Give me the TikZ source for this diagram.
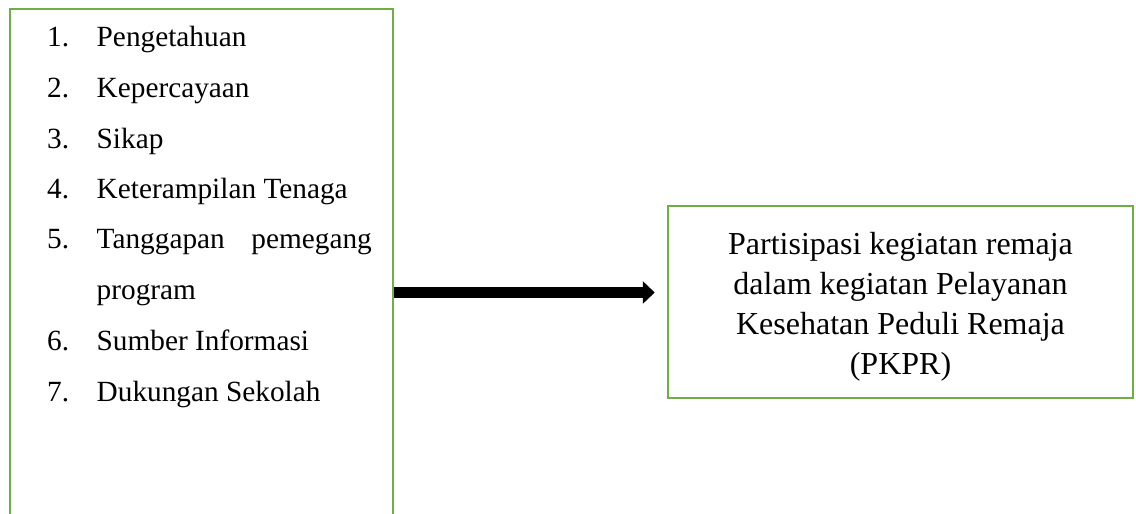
\documentclass[tikz,border=0pt]{standalone}
\usepackage{fontspec}
\setmainfont{Liberation Serif}
\usetikzlibrary{arrows.meta}
\definecolor{boxgreen}{RGB}{112,173,71}
\begin{document}
\begin{tikzpicture}[x=1pt,y=-1pt,
  greenbox/.style={draw=boxgreen, line width=2.5pt, rectangle, inner sep=0pt},
  listtext/.style={anchor=base west, inner sep=0pt, font=\fontsize{29.3}{35}\selectfont},
  listtextr/.style={anchor=base east, inner sep=0pt, font=\fontsize{29.3}{35}\selectfont},
  boxtext/.style={inner sep=0pt, align=center, font=\fontsize{32}{40}\selectfont},
  bigarrow/.style={line width=11pt, -{Triangle[length=12pt,width=22pt]}}
]
\clip (0,0) rectangle (1136,514);
\node[greenbox, minimum width=383pt, minimum height=540pt] (left) at (201.5,279) {};
\node[greenbox, minimum width=465pt, minimum height=192pt] (right) at (900.5,302) {};
\node[boxtext] (rtext) at ([yshift=-5pt]right.center) {Partisipasi kegiatan remaja\\dalam kegiatan Pelayanan\\Kesehatan Peduli Remaja\\(PKPR)};
% list
\node[listtext] (n1) at (47,46) {1.};
\node[listtext] (t1) at (96.5,46) {Pengetahuan};
\node[listtext] (n2) at (47,97) {2.};
\node[listtext] (t2) at (96.5,97) {Kepercayaan};
\node[listtext] (n3) at (47,148) {3.};
\node[listtext] (t3) at (96.5,148) {Sikap};
\node[listtext] (n4) at (47,198) {4.};
\node[listtext] (t4) at (96.5,198) {Keterampilan Tenaga};
\node[listtext] (n5) at (47,248) {5.};
\node[listtext] (t5a) at (96.5,248) {Tanggapan};
\node[listtextr] (t5b) at (372,248) {pemegang};
\node[listtext] (t5c) at (96.5,299) {program};
\node[listtext] (n6) at (47,350) {6.};
\node[listtext] (t6) at (96.5,350) {Sumber Informasi};
\node[listtext] (n7) at (47,401) {7.};
\node[listtext] (t7) at (96.5,401) {Dukungan Sekolah};
% arrow
\coordinate (ay) at (0,292.5);
\draw[bigarrow, shorten >=12pt] (left.east |- ay) -- (right.west |- ay);
\end{tikzpicture}
\end{document}
